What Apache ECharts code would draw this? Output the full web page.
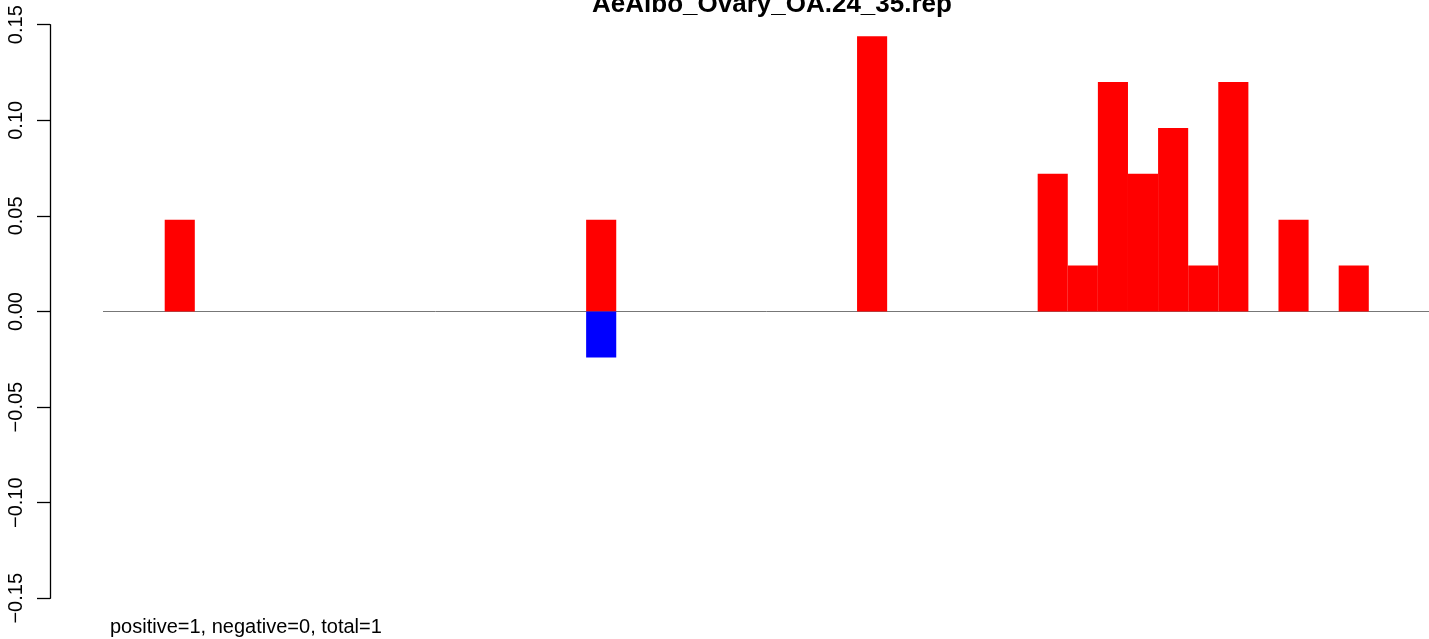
<!DOCTYPE html>
<html>
<head>
<meta charset="utf-8">
<script src="https://cdn.jsdelivr.net/npm/echarts@6/dist/echarts.min.js"></script>
<style>
html,body{margin:0;padding:0;background:#fff;}
#chart{width:1429px;height:639px;}
</style>
</head>
<body>
<div id="chart"></div>
<script>
// bins (44 slots), only some have values
const categories = Array.from({length: 44}, (_, i) => String(i + 1));
const positiveValues = [0,0,0.048,0,0,0,0,0,0,0,0,0,0,0,0,0,0.048,0,0,0,0,0,0,0,0,0.144,0,0,0,0,0,0.072,0.024,0.12,0.072,0.096,0.024,0.12,0,0.048,0,0.024,0,0];
const negativeValues = [0,0,0,0,0,0,0,0,0,0,0,0,0,0,0,0,-0.024,0,0,0,0,0,0,0,0,0,0,0,0,0,0,0,0,0,0,0,0,0,0,0,0,0,0,0];
const yTicks = [-0.15, -0.10, -0.05, 0.00, 0.05, 0.10, 0.15];
const titleText = 'AeAlbo_Ovary_OA.24_35.rep';
const footText = 'positive=1, negative=0, total=1';

const font = '"Liberation Sans", Arial, Helvetica, sans-serif';
const chart = echarts.init(document.getElementById('chart'), null, {renderer: 'canvas'});
chart.setOption({
  animation: false,
  backgroundColor: '#ffffff',
  title: [
    {text: titleText, left: 767, top: -13, textAlign: 'center',
     textStyle: {fontFamily: font, fontWeight: 'bold', fontSize: 26, color: '#000'}},
    {text: footText, left: 105, top: 612,
     textStyle: {fontFamily: font, fontWeight: 'normal', fontSize: 20, color: '#000'}}
  ],
  grid: {left: 104.5, right: -4.5, top: 24.7, bottom: 40.7, containLabel: false},
  xAxis: {
    type: 'category', data: categories, boundaryGap: true,
    axisLine: {show: true, onZero: true, lineStyle: {color: '#777', width: 1}},
    axisTick: {show: false}, axisLabel: {show: false}, splitLine: {show: false}
  },
  yAxis: {
    type: 'value', min: -0.15, max: 0.15, interval: 0.05, offset: 54.5,
    axisLine: {show: true, lineStyle: {color: '#000', width: 1.3}},
    axisTick: {show: true, inside: false, length: 13, lineStyle: {color: '#000', width: 1.3}},
    axisLabel: {show: true, rotate: 90, margin: 24, fontFamily: font, fontSize: 20, color: '#000',
      formatter: v => { const s = (Math.round(v*100)/100).toFixed(2); return s.replace('-', '\u2212'); }},
    splitLine: {show: false}
  },
  series: [
    {type: 'bar', name: 'positive', data: positiveValues, stack: 's', barCategoryGap: 0,
     itemStyle: {color: '#ff0000'}},
    {type: 'bar', name: 'negative', data: negativeValues, stack: 's', barCategoryGap: 0,
     itemStyle: {color: '#0000ff'}}
  ],
  graphic: [
    {type: 'line', shape: {x1: 103, y1: 311.5, x2: 105, y2: 311.5}, style: {stroke: '#777', lineWidth: 1}, z: 0}
  ]
});
</script>
</body>
</html>
